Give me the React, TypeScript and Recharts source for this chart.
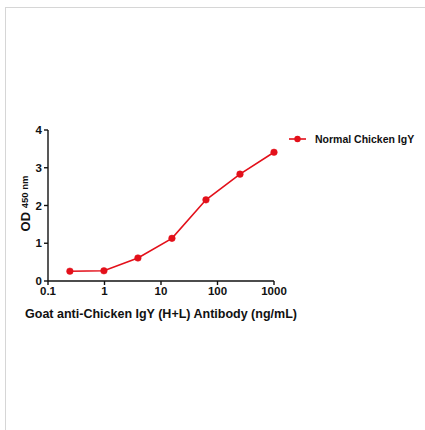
import React from "react";
import { LineChart, Line, XAxis, YAxis, Legend } from "recharts";

const concentrations = [0.244, 0.977, 3.906, 15.625, 62.5, 250, 1000];
const odValues = [0.26, 0.27, 0.61, 1.13, 2.15, 2.83, 3.41];
const xTicks = [0.1, 1, 10, 100, 1000];
const yTicks = [0, 1, 2, 3, 4];
const seriesName = "Normal Chicken IgY";

const data = concentrations.map((c, i) => ({ conc: c, od: odValues[i] }));

const RED = "#e3101a";
const FONT = "'Liberation Sans', Arial, sans-serif";

function YTitle({ viewBox }: any) {
  const cx = 25;
  const cy = viewBox ? viewBox.y + viewBox.height / 2 - 2 : 205;
  return (
    <text
      transform={`rotate(-90, ${cx}, ${cy})`}
      x={cx}
      y={cy}
      textAnchor="middle"
      dominantBaseline="central"
      fontFamily={FONT}
      fontWeight="bold"
      fill="#111"
    >
      <tspan fontSize={13}>OD </tspan>
      <tspan fontSize={9.5} dy={-1}>450 nm</tspan>
    </text>
  );
}

function LegendBox() {
  return (
    <svg width={135} height={16} style={{ display: "block" }}>
      <line x1={1} y1={8} x2={18} y2={8} stroke={RED} strokeWidth={1.6} />
      <circle cx={9.5} cy={8} r={3.2} fill={RED} />
      <text x={27} y={11.5} fontSize={10.5} fontWeight="bold" fontFamily={FONT} fill="#111">
        {seriesName}
      </text>
    </svg>
  );
}

export default function App() {
  return (
    <div style={{ position: "absolute", left: 0, top: 0, width: 425, height: 430, background: "#fff" }}>
      <div
        style={{
          position: "absolute",
          left: 5,
          top: 7,
          right: 0,
          bottom: 0,
          borderTop: "1px solid #d6d6d6",
          borderLeft: "1px solid #d6d6d6",
        }}
      />
      <LineChart
        width={425}
        height={430}
        data={data}
        margin={{ top: 130, right: 151, left: 18, bottom: 119 }}
        style={{ position: "absolute", left: 0, top: 0 }}
      >
        <XAxis
          dataKey="conc"
          type="number"
          scale="log"
          domain={[0.1, 1000]}
          ticks={xTicks}
          height={30}
          stroke="#111"
          strokeWidth={1.4}
          tickSize={4}
          tick={{ fontSize: 11.5, fontWeight: "bold", fill: "#111", fontFamily: FONT }}
          tickFormatter={(v: number) => String(v)}
          label={{
            value: "Goat anti-Chicken IgY (H+L) Antibody (ng/mL)",
            position: "insideBottom",
            offset: -7,
            fontSize: 12.5,
            fontWeight: "bold",
            fill: "#111",
            fontFamily: FONT,
          }}
        />
        <YAxis
          type="number"
          domain={[0, 4]}
          ticks={yTicks}
          width={30}
          stroke="#111"
          strokeWidth={1.4}
          tickSize={4}
          tick={{ fontSize: 11.5, fontWeight: "bold", fill: "#111", fontFamily: FONT }}
          label={{ content: <YTitle /> }}
        />
        <Legend
          layout="horizontal"
          verticalAlign="middle"
          align="center"
          content={<LegendBox />}
          wrapperStyle={{ position: "absolute", left: 288, top: 131, width: 135 }}
        />
        <Line
          type="linear"
          dataKey="od"
          name={seriesName}
          stroke={RED}
          strokeWidth={1.6}
          dot={{ r: 3.3, fill: RED, stroke: RED, strokeWidth: 0.5 }}
          isAnimationActive={false}
        />
      </LineChart>
    </div>
  );
}
